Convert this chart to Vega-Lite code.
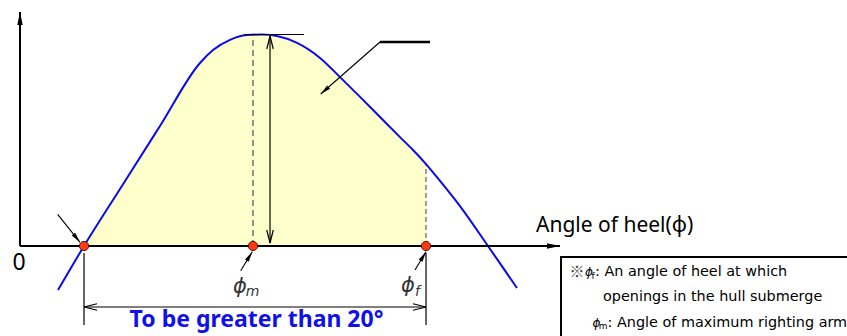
{
  "$schema": "https://vega.github.io/schema/vega-lite/v6.json",
  "width": 847,
  "height": 336,
  "autosize": {"type": "fit", "contains": "padding"},
  "padding": 0,
  "background": "white",
  "config": {"view": {"stroke": null}},
  "datasets": {
    "curve": [
      {"deg": 6.33, "gz": -0.147},
      {"deg": 10.67, "gz": 0},
      {"deg": 16.67, "gz": 0.19},
      {"deg": 23.33, "gz": 0.4},
      {"deg": 30, "gz": 0.61},
      {"deg": 32.17, "gz": 0.653},
      {"deg": 35, "gz": 0.687},
      {"deg": 37.83, "gz": 0.703},
      {"deg": 40.33, "gz": 0.705},
      {"deg": 42.83, "gz": 0.7},
      {"deg": 46.17, "gz": 0.677},
      {"deg": 50, "gz": 0.627},
      {"deg": 53.33, "gz": 0.563},
      {"deg": 56.67, "gz": 0.497},
      {"deg": 60, "gz": 0.43},
      {"deg": 63.33, "gz": 0.363},
      {"deg": 65.5, "gz": 0.32},
      {"deg": 67.67, "gz": 0.273},
      {"deg": 70, "gz": 0.217},
      {"deg": 73.33, "gz": 0.133},
      {"deg": 78, "gz": 0},
      {"deg": 82.83, "gz": -0.14}
    ],
    "axisArrows": [
      {"deg": 0, "gz": 0, "deg2": 0, "gz2": 0.78, "heading": 0},
      {"deg": 0, "gz": 0, "deg2": 90, "gz2": 0, "heading": 90}
    ],
    "leaders": [
      {"deg": 60, "gz": 0.68, "deg2": 50.12, "gz2": 0.5067, "heading": 228.75},
      {"deg": 6.28, "gz": 0.1057, "deg2": 10, "gz2": 0.0123, "heading": 141.5},
      {"deg": 36.78, "gz": -0.0823, "deg2": 38.72, "gz2": -0.019, "heading": 31.4},
      {"deg": 65.83, "gz": -0.08, "deg2": 67.67, "gz2": -0.019, "heading": 31}
    ],
    "thinLines": [
      {"deg": 37.33, "gz": 0.705, "deg2": 47.33, "gz2": 0.705},
      {"deg": 41.67, "gz": 0.7, "deg2": 41.67, "gz2": 0.01},
      {"deg": 10.67, "gz": -0.2033, "deg2": 67.67, "gz2": -0.2033},
      {"deg": 10.67, "gz": -0.0233, "deg2": 10.67, "gz2": -0.2633},
      {"deg": 67.67, "gz": -0.0233, "deg2": 67.67, "gz2": -0.2633}
    ],
    "openHeads": [
      {"deg": 41.67, "gz": 0.7, "heading": 0},
      {"deg": 41.67, "gz": 0.01, "heading": 180},
      {"deg": 10.67, "gz": -0.2033, "heading": 270},
      {"deg": 67.67, "gz": -0.2033, "heading": 90}
    ],
    "thickLines": [
      {"deg": 60, "gz": 0.68, "deg2": 68.33, "gz2": 0.68}
    ],
    "markers": [
      {"deg": 10.67, "gz": 0},
      {"deg": 38.83, "gz": 0},
      {"deg": 67.67, "gz": 0}
    ]
  },
  "encoding": {
    "x": {"field": "deg", "type": "quantitative", "scale": {"domain": [-3.333333, 137.833333], "nice": false, "zero": false}, "axis": null},
    "y": {"field": "gz", "type": "quantitative", "scale": {"domain": [-0.3, 0.82], "nice": false, "zero": false}, "axis": null}
  },
  "layer": [
    {
      "data": {"name": "curve"},
      "transform": [{"filter": "datum.deg >= 10.66 && datum.deg <= 67.68"}],
      "mark": {"type": "area", "color": "#FFFFCC", "interpolate": "monotone", "opacity": 1},
      "encoding": {"y2": {"datum": 0}}
    },
    {
      "data": {"values": [{"deg": 38.83, "gz": 0, "gz2": 0.703}]},
      "mark": {"type": "rule", "color": "#707070", "strokeWidth": 1.5, "strokeDash": [6, 4]},
      "encoding": {"y2": {"field": "gz2"}}
    },
    {
      "data": {"values": [{"deg": 67.67, "gz": 0, "gz2": 0.273}]},
      "mark": {"type": "rule", "color": "#404040", "strokeWidth": 1, "strokeDash": [5, 3]},
      "encoding": {"y2": {"field": "gz2"}}
    },
    {
      "data": {"name": "curve"},
      "mark": {"type": "line", "color": "#0A0AF0", "strokeWidth": 2, "interpolate": "monotone"},
      "encoding": {}
    },
    {
      "data": {"name": "thinLines"},
      "mark": {"type": "rule", "color": "black", "strokeWidth": 1.2},
      "encoding": {"x2": {"field": "deg2"}, "y2": {"field": "gz2"}}
    },
    {
      "data": {"name": "leaders"},
      "mark": {"type": "rule", "color": "black", "strokeWidth": 1.1},
      "encoding": {"x2": {"field": "deg2"}, "y2": {"field": "gz2"}}
    },
    {
      "data": {"name": "thickLines"},
      "mark": {"type": "rule", "color": "black", "strokeWidth": 2.5},
      "encoding": {"x2": {"field": "deg2"}, "y2": {"field": "gz2"}}
    },
    {
      "data": {"name": "axisArrows"},
      "mark": {"type": "rule", "color": "black", "strokeWidth": 2},
      "encoding": {"x2": {"field": "deg2"}, "y2": {"field": "gz2"}}
    },
    {
      "data": {"name": "axisArrows"},
      "mark": {"type": "point", "shape": "M0,0L0.42,2L-0.42,2Z", "filled": true, "color": "black", "opacity": 1, "size": 169},
      "encoding": {
        "x": {"field": "deg2", "type": "quantitative"},
        "y": {"field": "gz2", "type": "quantitative"},
        "angle": {"field": "heading", "type": "quantitative", "scale": null}
      }
    },
    {
      "data": {"name": "leaders"},
      "mark": {"type": "point", "shape": "M0,0L0.42,2L-0.42,2Z", "filled": true, "color": "black", "opacity": 1, "size": 110},
      "encoding": {
        "x": {"field": "deg2", "type": "quantitative"},
        "y": {"field": "gz2", "type": "quantitative"},
        "angle": {"field": "heading", "type": "quantitative", "scale": null}
      }
    },
    {
      "data": {"name": "openHeads"},
      "mark": {"type": "point", "shape": "M-0.5,2L0,0L0.5,2", "filled": false, "color": "black", "strokeWidth": 1.2, "opacity": 1, "size": 169},
      "encoding": {
        "angle": {"field": "heading", "type": "quantitative", "scale": null}
      }
    },
    {
      "data": {"name": "markers"},
      "mark": {"type": "point", "shape": "circle", "filled": true, "fill": "#FF3A12", "stroke": "#4A1000", "strokeWidth": 1, "opacity": 1, "size": 85}
    },
    {
      "data": {"values": [{"deg": -0.17, "gz": -0.057, "label": "0"}]},
      "mark": {"type": "text", "font": "Noto Sans", "fontSize": 23, "align": "center", "baseline": "middle", "color": "black"},
      "encoding": {"text": {"field": "label"}}
    },
    {
      "data": {"values": [{"deg": 86, "gz": 0.0667, "label": "Angle of heel(ϕ)"}]},
      "mark": {"type": "text", "font": "Noto Sans", "fontSize": 21, "align": "left", "baseline": "middle", "color": "black"},
      "encoding": {"text": {"field": "label"}}
    },
    {
      "data": {"values": [{"deg": 39.42, "gz": -0.2483, "label": "To be greater than 20°"}]},
      "mark": {"type": "text", "font": "Noto Sans", "fontSize": 23, "fontWeight": "bold", "align": "center", "baseline": "middle", "color": "#1010E8"},
      "encoding": {"text": {"field": "label"}}
    },
    {
      "data": {"values": [{"deg": 36.67, "gz": -0.1367, "label": "ϕ"}, {"deg": 64.67, "gz": -0.1333, "label": "ϕ"}]},
      "mark": {"type": "text", "font": "DejaVu Sans", "fontSize": 21, "fontStyle": "italic", "align": "center", "baseline": "middle", "color": "#333333"},
      "encoding": {"text": {"field": "label"}}
    },
    {
      "data": {"values": [{"deg": 38.75, "gz": -0.153, "label": "m"}, {"deg": 66.25, "gz": -0.153, "label": "f"}]},
      "mark": {"type": "text", "font": "DejaVu Sans", "fontSize": 14, "fontStyle": "italic", "align": "center", "baseline": "middle", "color": "#333333"},
      "encoding": {"text": {"field": "label"}}
    },
    {
      "data": {"values": [{"deg": 90.17, "gz": -0.0367, "deg2": 146.67, "gz2": -0.513}]},
      "mark": {"type": "rect", "fill": "white", "stroke": "black", "strokeWidth": 2, "clip": true},
      "encoding": {"x2": {"field": "deg2"}, "y2": {"field": "gz2"}}
    },
    {
      "data": {"values": [
        {"deg": 95.83, "gz": -0.0867, "label": ": An angle of heel at which"},
        {"deg": 97.17, "gz": -0.17, "label": "openings in the hull submerge"},
        {"deg": 97.92, "gz": -0.2567, "label": ": Angle of maximum righting arm"}
      ]},
      "mark": {"type": "text", "font": "DejaVu Sans", "fontSize": 14.4, "align": "left", "baseline": "middle", "color": "black", "clip": true},
      "encoding": {"text": {"field": "label"}}
    },
    {
      "data": {"values": [{"deg": 92.83, "gz": -0.0867, "label": "※"}]},
      "mark": {"type": "text", "font": "Noto Sans CJK KR", "fontSize": 15, "align": "center", "baseline": "middle", "color": "#444444"},
      "encoding": {"text": {"field": "label"}}
    },
    {
      "data": {"values": [{"deg": 94.83, "gz": -0.0867, "label": "ϕ"}, {"deg": 96.08, "gz": -0.2567, "label": "ϕ"}]},
      "mark": {"type": "text", "font": "DejaVu Sans", "fontSize": 12, "fontStyle": "italic", "align": "center", "baseline": "middle", "color": "black"},
      "encoding": {"text": {"field": "label"}}
    },
    {
      "data": {"values": [{"deg": 95.5, "gz": -0.1, "label": "f"}, {"deg": 97.2, "gz": -0.2667, "label": "m"}]},
      "mark": {"type": "text", "font": "DejaVu Sans", "fontSize": 9, "align": "center", "baseline": "middle", "color": "black"},
      "encoding": {"text": {"field": "label"}}
    }
  ]
}
